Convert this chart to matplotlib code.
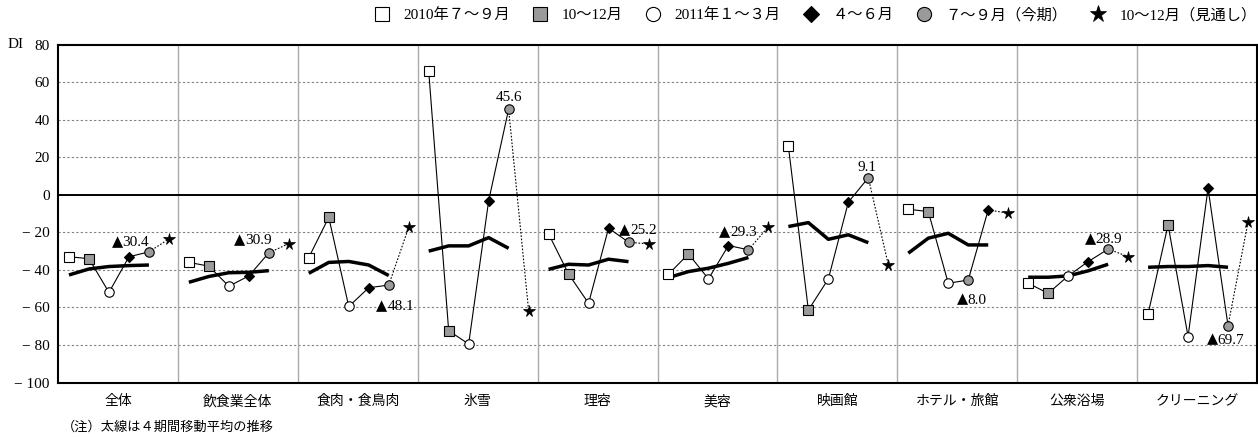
import matplotlib
matplotlib.use('Agg')
import matplotlib.pyplot as plt
from matplotlib.lines import Line2D

FONT = ['Liberation Serif', 'Noto Sans CJK JP', 'DejaVu Sans']
plt.rcParams['font.family'] = FONT

# ---------------- data ----------------
categories = ['全体', '飲食業全体', '食肉・食鳥肉', '氷雪', '理容', '美容',
              '映画館', 'ホテル・旅館', '公衆浴場', 'クリーニング']
period_labels = ['2010年７～９月', '10～12月', '2011年１～３月', '４～６月',
                 '７～９月（今期）', '10～12月（見通し）']

di_2010_q3 = [-33.0, -36.0, -33.4, 66.0, -20.8, -42.3, 25.8, -7.7, -47.1, -63.5]
di_2010_q4 = [-34.0, -38.0, -12.0, -72.4, -42.2, -31.5, -61.4, -8.9, -52.5, -16.0]
di_2011_q1 = [-52.0, -48.7, -59.5, -79.5, -57.8, -44.8, -44.8, -47.1, -43.2, -75.5]
di_2011_q2 = [-33.0, -43.2, -49.5, -3.2, -17.8, -27.0, -3.9, -45.4, -35.6, 3.5]
di_2011_q3 = [-30.4, -30.9, -48.1, 45.6, -25.2, -29.3, 9.1, -8.0, -28.9, -69.7]
di_2011_q4_outlook = [-23.5, -26.0, -17.3, -61.7, -26.2, -17.0, -37.3, -9.8, -32.9, -14.6]

# 4-period moving average (thick line), 5 points per category
ma_p1 = [-42.7, -46.6, -41.8, -30.0, -39.7, -44.1, -16.9, -31.1, -43.9, -38.6]
ma_p2 = [-39.5, -43.5, -36.0, -27.2, -37.0, -40.9, -14.8, -23.1, -43.9, -38.2]
ma_p3 = [-38.2, -41.5, -35.5, -27.2, -37.4, -39.1, -23.7, -20.5, -43.2, -38.2]
ma_p4 = [-37.7, -41.3, -37.4, -22.8, -34.3, -36.5, -21.3, -26.7, -40.5, -37.7]
ma_p5 = [-37.4, -40.4, -43.0, -28.5, -35.6, -33.4, -25.5, -26.7, -37.0, -38.6]

current_labels = ['▲30.4', '▲30.9', '▲48.1', '45.6', '▲25.2', '▲29.3',
                  '9.1', '▲8.0', '▲28.9', '▲69.7']

y_ticks = [80, 60, 40, 20, 0, -20, -40, -60, -80, -100]

# ---------------- style ----------------
W, H = 1258, 437
fig = plt.figure(figsize=(W / 100, H / 100), dpi=100)
ax = fig.add_axes([58 / W, 1 - 382.5 / H, (1257 - 58) / W, (382.5 - 44.7) / H])

GRAY = '#9a9a9a'
slot_styles = [
    dict(marker='s', mfc='white', mec='black', ms=6.5, mew=0.8),
    dict(marker='s', mfc=GRAY, mec='black', ms=6.5, mew=0.8),
    dict(marker='o', mfc='white', mec='black', ms=6.8, mew=0.8),
    dict(marker='D', mfc='black', mec='black', ms=5.5, mew=0.8),
    dict(marker='o', mfc=GRAY, mec='black', ms=6.8, mew=0.8),
    dict(marker='*', mfc='black', mec='black', ms=8.5, mew=0.5),
]
# the reference draws the hotel panel's 4-6 / 7-9 markers swapped
marker_swap = {7: (3, 4)}
# label offsets (pixels) relative to the annotated point, and which slot it sits at
label_slot = [4, 4, 4, 4, 4, 4, 4, 3, 4, 4]
label_offsets = [(-19, 11), (-16, 14), (6, -20), (0, 13.5), (9, 13), (-11, 19),
                 (-1, 12), (3, -18.5), (-5, 11), (-3, -13)]
LBL_FS = 11
PX = LBL_FS * 100 / 72.0          # em size in pixels
TRI_W = 0.80 * PX

series = [di_2010_q3, di_2010_q4, di_2011_q1, di_2011_q2, di_2011_q3, di_2011_q4_outlook]
ma_series = [ma_p1, ma_p2, ma_p3, ma_p4, ma_p5]

ax.set_xlim(0, 6 * len(categories))
ax.set_ylim(-100, 80)

# grid
for v in y_ticks:
    if v in (80, -100):
        continue
    if v == 0:
        ax.axhline(0, color='black', lw=1.4, zorder=2)
    else:
        ax.axhline(v, color='#808080', lw=0.8, ls=(0, (2, 2)), zorder=1)
for k in range(1, len(categories)):
    ax.axvline(6 * k, color='#aaaaaa', lw=1.0, zorder=1)

for c, name in enumerate(categories):
    vals = [s[c] for s in series]
    xs = [6 * c + i + 0.55 for i in range(6)]
    ax.plot(xs[:5], vals[:5], color='black', lw=0.8, zorder=3)
    ax.plot(xs[4:], vals[4:], color='black', lw=0.8, ls=(0, (1.5, 1.5)), zorder=3)
    ma = [m[c] for m in ma_series]
    ax.plot(xs[:5], ma, color='black', lw=2.5, solid_capstyle='butt', zorder=4)
    order = list(range(6))
    if c in marker_swap:
        a, b = marker_swap[c]
        order[a], order[b] = order[b], order[a]
    for i in range(6):
        st = slot_styles[order[i]]
        ax.plot([xs[i]], [vals[i]], ls='none', zorder=5, **st)

    # label of current value; the ▲ sign is drawn with a larger glyph
    si = label_slot[c]
    dx, dy = label_offsets[c]
    txt = current_labels[c]
    if txt.startswith('▲'):
        num = txt[1:]
        num_w = (len(num) - 1) * 0.5 * PX + 0.25 * PX
        left = dx - (TRI_W + num_w) / 2.0
        ax.annotate('▲', (xs[si], vals[si]), xytext=(left + TRI_W, dy - 5),
                    textcoords='offset pixels', ha='right', va='baseline',
                    fontsize=LBL_FS * 0.95, family=['DejaVu Sans'], zorder=6)
        ax.annotate(num, (xs[si], vals[si]), xytext=(left + TRI_W, dy - 5),
                    textcoords='offset pixels', ha='left', va='baseline',
                    fontsize=LBL_FS, family=FONT, zorder=6)
    else:
        ax.annotate(txt, (xs[si], vals[si]), xytext=(dx, dy - 5),
                    textcoords='offset pixels', ha='center', va='baseline',
                    fontsize=LBL_FS, family=FONT, zorder=6)

ax.set_yticks(y_ticks)
ax.set_yticklabels([str(v) if v >= 0 else '− ' + str(-v) for v in y_ticks],
                   fontsize=11)
ax.tick_params(axis='y', length=0, pad=6)
ax.set_xticks([6 * c + 3 for c in range(len(categories))])
ax.set_xticklabels(categories, fontsize=10)
ax.tick_params(axis='x', length=0, pad=9)
for sp in ax.spines.values():
    sp.set_linewidth(1.5)
    sp.set_color('black')

fig.text(8 / W, 1 - 44.7 / H, 'DI', fontsize=11, va='center', ha='left')
fig.text(62 / W, 1 - 427 / H, '（注）太線は４期間移動平均の推移', fontsize=9.5,
         va='center', ha='left')

handles = []
for st in slot_styles:
    handles.append(Line2D([], [], ls='none', **{**st, 'ms': st['ms'] * 1.5}))
fig.legend(handles, period_labels, loc='center right',
           bbox_to_anchor=(1257 / W, 1 - 15 / H), ncol=6, frameon=False,
           fontsize=11, handlelength=1.0, handletextpad=0.9,
           columnspacing=1.5, borderaxespad=0, borderpad=0)

fig.savefig('out.png', dpi=100)
